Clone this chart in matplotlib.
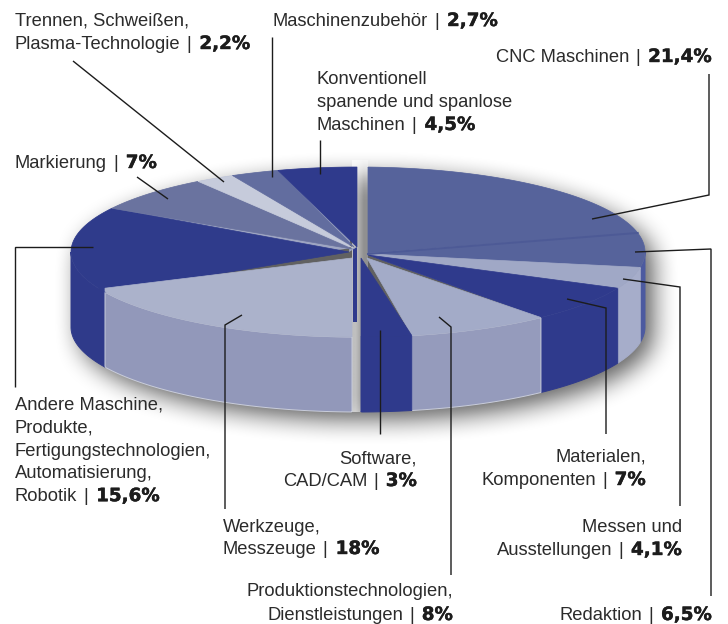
import numpy as np
import matplotlib
matplotlib.use("Agg")
import matplotlib.pyplot as plt
import matplotlib.patheffects as pe
from matplotlib.patches import Polygon

# clockwise from 12 o'clock
categories = ["CNC", "Redaktion", "Messen", "Materialen", "Produktion", "Software",
              "Werkzeuge", "Andere", "Markierung", "Trennen", "Zubehoer", "Konventionell"]
shares = [21.4, 6.5, 4.1, 7, 8, 3, 18, 15.6, 7, 2.2, 2.7, 4.5]
top_colors = ["#56639b", "#56639b", "#a0a8c6", "#2f3a8c", "#a3abc8", "#2f3a8c",
              "#abb2cb", "#2f3b8b", "#6a739f", "#c6cbdb", "#626d9f", "#2f3a8c"]
wall_colors = ["#56639b", "#4c5aa0", "#a6adca", "#2f3a8c", "#959bbc", "#2f3a8c",
               "#9298ba", "#2f3a8a", "#6a739f", "#c6cbdb", "#626d9f", "#2f3a8c"]
label_lines = {
    "CNC": ["CNC Maschinen"],
    "Redaktion": ["Redaktion"],
    "Messen": ["Messen und", "Ausstellungen"],
    "Materialen": ["Materialen,", "Komponenten"],
    "Produktion": ["Produktionstechnologien,", "Dienstleistungen"],
    "Software": ["Software,", "CAD/CAM"],
    "Werkzeuge": ["Werkzeuge,", "Messzeuge"],
    "Andere": ["Andere Maschine,", "Produkte,", "Fertigungstechnologien,", "Automatisierung,", "Robotik"],
    "Markierung": ["Markierung"],
    "Trennen": ["Trennen, Schweißen,", "Plasma-Technologie"],
    "Zubehoer": ["Maschinenzubehör"],
    "Konventionell": ["Konventionell", "spanende und spanlose", "Maschinen"],
}

# layout, in pixels of the 728x624 picture
CX, CY, RX, RY, DEPTH = 358, 252, 287, 85, 75
apex = {"CNC": (368, 253), "Redaktion": (368, 254), "Messen": (370, 254), "Materialen": (368, 255),
        "Produktion": (367, 258), "Software": (361, 258), "Werkzeuge": (352, 258), "Andere": (349, 252),
        "Markierung": (352, 249), "Trennen": (353, 248), "Zubehoer": (354, 247), "Konventionell": (357, 247)}
x_limits = {"CNC": (368, 999), "Redaktion": (368, 999), "Software": (361, 999),
            "Werkzeuge": (105, 352), "Konventionell": (0, 357)}
# Andere runs on a little under Werkzeuge, which is cut back at its left tip
under_start = {"Andere": 0.06}
label_pos = {"CNC": ("right", 712, 62, 23), "Redaktion": ("right", 712, 620, 23),
             "Messen": ("right", 682, 532, 23), "Materialen": ("right", 646, 462, 23),
             "Produktion": ("right", 453, 596, 24), "Software": ("right", 417, 463, 23),
             "Werkzeuge": ("left", 223, 532, 22), "Andere": ("left", 15, 410, 22.8),
             "Markierung": ("left", 15, 168, 23), "Trennen": ("left", 15, 26, 23),
             "Zubehoer": ("left", 273, 26, 23), "Konventionell": ("left", 317, 84, 23)}
leaders = [[(709, 74), (709, 195), (592, 219)],
           [(635, 252), (711, 249), (711, 596)],
           [(623, 279), (680, 287), (680, 506)],
           [(567, 299), (606, 308), (606, 434)],
           [(439, 317), (451, 327), (451, 575)],
           [(380, 330), (380, 434)],
           [(242, 315), (225, 325), (225, 509)],
           [(93, 247), (15, 247), (15, 387)],
           [(137, 177), (168, 199)],
           [(73, 61), (224, 182)],
           [(272, 37), (272, 177)],
           [(320, 140), (320, 174)]]

NAME_FONT = "Liberation Sans"
BOLD_FONT = "DejaVu Sans"
FONT_SIZE = 13.2
TEXT_COLOR = "#2b2b2b"
SEAM_COLOR = "#9ea5c2"

fig = plt.figure(figsize=(7.28, 6.24), dpi=100)
ax = fig.add_axes([0, 0, 1, 1])
ax.set_xlim(0, 728)
ax.set_ylim(624, 0)
ax.axis("off")


def rim(angles, drop=0.0):
    return np.column_stack([CX + RX * np.sin(angles), CY - RY * np.cos(angles) + drop])


def blur(img, size, passes=3):
    kernel = np.ones(size) / size
    for _ in range(passes):
        img = np.apply_along_axis(lambda r: np.convolve(r, kernel, mode="same"), 0, img)
        img = np.apply_along_axis(lambda r: np.convolve(r, kernel, mode="same"), 1, img)
    return img


# soft shadow: blurred silhouette of the pie
gx, gy = np.meshgrid(np.arange(728), np.arange(624))
sx, sy = gx - (CX + 8), gy - (CY + 8)
in_top = (sx / RX) ** 2 + (sy / RY) ** 2 <= 1
in_low = (sx / RX) ** 2 + ((sy - DEPTH) / RY) ** 2 <= 1
in_mid = (np.abs(sx) <= RX) & (sy >= 0) & (sy <= DEPTH)
mask = (in_top | in_low | in_mid).astype(float)
shadow = blur(mask, 27, passes=2) * 0.62
rgba = np.zeros((624, 728, 4))
rgba[..., 3] = shadow
ax.imshow(rgba, extent=(0, 728, 624, 0), origin="upper", interpolation="bilinear", zorder=1, aspect="auto")

# the open cuts are much paler than the shadow
ax.imshow(np.array([[[1, 1, 1, 0.6], [1, 1, 1, 0.3]]]), extent=(352, 368, 412, 160), origin="upper",
          interpolation="bilinear", zorder=1.2, aspect="auto")
ax.set_xlim(0, 728)
ax.set_ylim(624, 0)

ends = np.cumsum(shares) / sum(shares) * 2 * np.pi
starts = np.concatenate([[0], ends[:-1]])

for name, a0, a1, wall_c in zip(categories, starts, ends, wall_colors):
    xlo, xhi = x_limits.get(name, (0, 999))
    a0 = a0 - under_start.get(name, 0)
    # wall, only the part that faces the viewer
    w0, w1 = max(a0, np.pi / 2), min(a1, 3 * np.pi / 2)
    if w1 > w0:
        t = np.linspace(w0, w1, 60)
        upper = rim(t)
        lower = rim(t[::-1], DEPTH)
        pts = np.vstack([upper, lower])
        pts[:, 0] = np.clip(pts[:, 0], xlo, xhi)
        ax.add_patch(Polygon(pts, closed=True, fc=wall_c, ec="#c9cddb" if wall_c.startswith("#9") else wall_c,
                             lw=0.7, zorder=2.2 if name == "Werkzeuge" else 2))

# pale base under the tops, so thin seams between slices do not show the shadow
left_arc = rim(np.linspace(starts[7], ends[11], 80))
left_arc[:, 0] = np.minimum(left_arc[:, 0], 357)
ax.add_patch(Polygon(np.vstack([[apex["Konventionell"]], left_arc, [apex["Andere"]]]), closed=True,
                     fc=SEAM_COLOR, ec="none", zorder=2.8))
right_arc = rim(np.linspace(starts[0], ends[3], 80))
right_arc[:, 0] = np.maximum(right_arc[:, 0], 368)
ax.add_patch(Polygon(np.vstack([[apex["CNC"]], right_arc, [apex["Materialen"]]]), closed=True,
                     fc=SEAM_COLOR, ec="none", zorder=2.8))

for name, a0, a1, top_c in zip(categories, starts, ends, top_colors):
    xlo, xhi = x_limits.get(name, (0, 999))
    t = np.linspace(a0 - under_start.get(name, 0), a1, 60)
    arc = rim(t)
    arc[:, 0] = np.clip(arc[:, 0], xlo, xhi)
    pts = np.vstack([[apex[name]], arc])
    ax.add_patch(Polygon(pts, closed=True, fc=top_c, ec=top_c, lw=0.5, zorder=3.2 if name == "Werkzeuge" else 3))

# dark inner face beside the gap at the top
ax_x, ax_y = apex["Konventionell"]
ax.add_patch(Polygon([(ax_x - 4, ax_y + 2), (ax_x, ax_y), (ax_x, ax_y + DEPTH), (ax_x - 4, ax_y + DEPTH)],
                     closed=True, fc="#2f3a8c", ec="none", zorder=2.5))

# darker seam between CNC and Redaktion
seam = rim(np.array([ends[0]]))[0]
ax.plot([apex["CNC"][0], seam[0]], [apex["CNC"][1] + 1, seam[1]], color="#4d5a96", lw=1.4, zorder=4)

for path in leaders:
    xs, ys = zip(*path)
    ax.plot(xs, ys, color="#1c1c1c", lw=1.0, solid_capstyle="butt", solid_joinstyle="miter", zorder=5)

renderer = fig.canvas.get_renderer()


def width_of(artist):
    return artist.get_window_extent(renderer).width


for name, share in zip(categories, shares):
    align, x, y, step = label_pos[name]
    lines = label_lines[name]
    for i, line in enumerate(lines[:-1]):
        ax.text(x, y + i * step, line, ha=align, va="baseline", family=NAME_FONT, size=FONT_SIZE, color=TEXT_COLOR)
    base = y + (len(lines) - 1) * step
    pct = f"{share:g}".replace(".", ",") + "%"
    t_name = ax.text(0, base, lines[-1], va="baseline", family=NAME_FONT, size=FONT_SIZE, color=TEXT_COLOR)
    t_bar = ax.text(0, base, "|", va="baseline", family=NAME_FONT, size=FONT_SIZE, color=TEXT_COLOR)
    t_pct = ax.text(0, base, pct, va="baseline", family=BOLD_FONT, weight="bold", size=FONT_SIZE, color="#1c1c1c",
                    path_effects=[pe.withStroke(linewidth=0.3, foreground="#1c1c1c")])
    w_name, w_bar, w_pct = width_of(t_name), width_of(t_bar), width_of(t_pct)
    gap_a, gap_b = 6, 8
    total = w_name + gap_a + w_bar + gap_b + w_pct
    left = x - total if align == "right" else x
    t_name.set_x(left)
    t_bar.set_x(left + w_name + gap_a)
    t_pct.set_x(left + w_name + gap_a + w_bar + gap_b)

fig.savefig("out.png", dpi=100)
